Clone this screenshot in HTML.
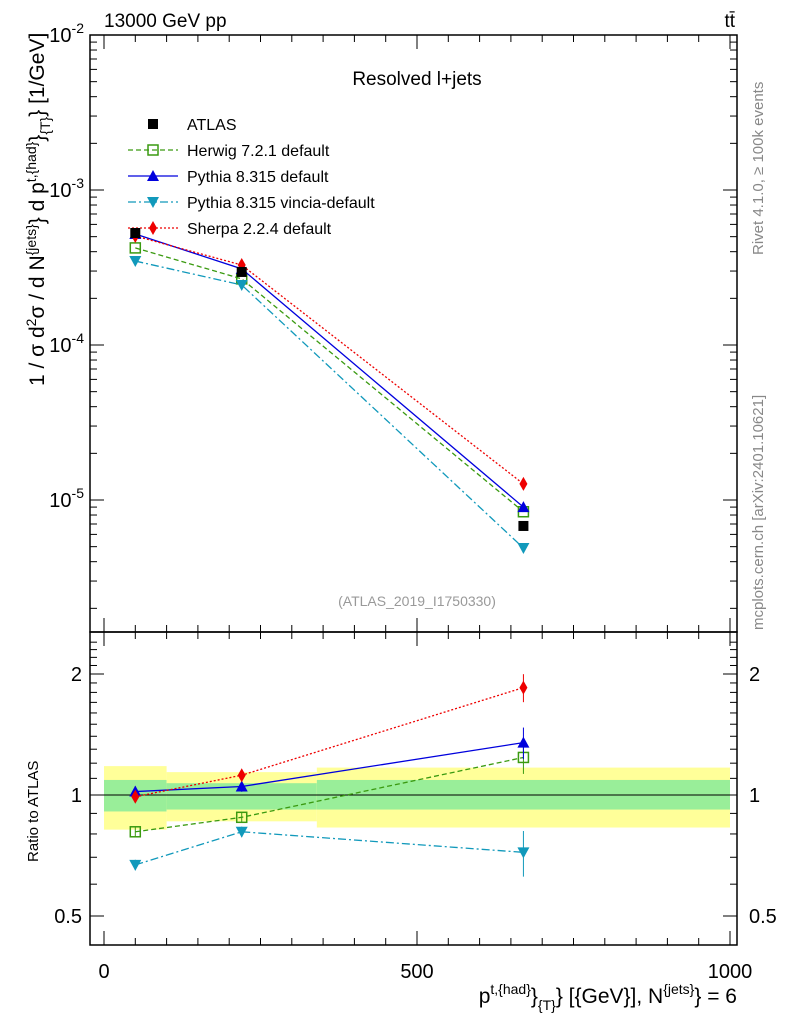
<!DOCTYPE html>
<html><head><meta charset="utf-8"><style>
body{margin:0;background:#fff;}
svg{display:block;font-family:"Liberation Sans",sans-serif;}
</style></head><body>
<svg id="chart" width="786" height="1024" viewBox="0 0 786 1024">
<text x="104" y="27" font-size="19">13000 GeV pp</text>
<text x="735" y="27" font-size="19" text-anchor="end">tt̄</text>
<text x="417" y="85" font-size="19" text-anchor="middle">Resolved l+jets</text>
<text x="417" y="606" font-size="14" fill="#999" text-anchor="middle">(ATLAS_2019_I1750330)</text>
<text transform="translate(763,255) rotate(-90)" font-size="15" fill="#888">Rivet 4.1.0, ≥ 100k events</text>
<text transform="translate(763,630) rotate(-90)" font-size="15" fill="#888">mcplots.cern.ch [arXiv:2401.10621]</text>
<text transform="translate(44,386) rotate(-90)" font-size="21">1 / σ d<tspan font-size="14" dy="-8">2</tspan><tspan dy="8">σ / d N</tspan><tspan font-size="14" dy="-8">{jets}</tspan><tspan dy="8">} d p</tspan><tspan font-size="14" dy="-8">t,{had}</tspan><tspan dy="8">}</tspan><tspan font-size="14" dy="6">{T}</tspan><tspan dy="-6">} [1/GeV]</tspan></text>
<text transform="translate(38,862) rotate(-90)" font-size="15">Ratio to ATLAS</text>
<text x="737" y="1003" font-size="21" text-anchor="end">p<tspan font-size="14" dy="-9">t,{had}</tspan><tspan dy="9">}</tspan><tspan font-size="14" dy="7">{T}</tspan><tspan dy="-7">} [{GeV}], N</tspan><tspan font-size="14" dy="-9">{jets}</tspan><tspan dy="9">} = 6</tspan></text>
<g id="legend"></g>
<g id="bands"></g><g id="axes"></g><g id="series"></g>
</svg>
<script>
const xs=[50,220,670];
const atlas=[5.28e-4,2.96e-4,6.8e-6];
const herwig=[4.23e-4,2.67e-4,8.4e-6];
const pythia=[5.2e-4,3.1e-4,9.0e-6];
const vincia=[3.48e-4,2.44e-4,4.9e-6];
const sherpa=[5.05e-4,3.28e-4,1.27e-5];
const rHerwig=[0.81,0.88,1.24];
const rPythia=[1.02,1.05,1.35];
const rVincia=[0.67,0.81,0.72];
const rSherpa=[0.99,1.12,1.85];
const rErr=[[0.03,0.03,0.09],[0.03,0.03,0.09],[0.03,0.03,0.13],[0.02,0.02,0.08]];
const binEdges=[0,100,340,1000];
const yelLo=[0.82,0.86,0.83],yelHi=[1.18,1.14,1.17];
const grnLo=[0.91,0.92,0.92],grnHi=[1.09,1.07,1.09];
const xTicks=[0,500,1000];
const ratioTicks=[0.5,1,2];

const NS="http://www.w3.org/2000/svg";
const L=90,R=737,T=35,MB=632,RB=945;
const X=v=>104+v*0.626;
const Y=v=>35+(-2-Math.log10(v))*155;
const YR=v=>795-Math.log2(v)*121;
function mk(tag,at,par){const e=document.createElementNS(NS,tag);for(const k in at)e.setAttribute(k,at[k]);document.getElementById(par).appendChild(e);return e;}
for(let i=0;i<3;i++){
 const y=mk('rect',{x:X(binEdges[i]),y:YR(yelHi[i]),width:X(binEdges[i+1])-X(binEdges[i]),height:YR(yelLo[i])-YR(yelHi[i]),fill:'#ffff99'},'bands');
 
 
 const g=mk('rect',{x:X(binEdges[i]),y:YR(grnHi[i]),width:X(binEdges[i+1])-X(binEdges[i]),height:YR(grnLo[i])-YR(grnHi[i]),fill:'#99ee99'},'bands');
 
 
}
mk('line',{x1:X(0),x2:X(1000),y1:YR(1),y2:YR(1),stroke:'#000'},'bands');
mk('rect',{x:L,y:T,width:R-L,height:MB-T,fill:'none',stroke:'#000','stroke-width':1.5},'axes');
mk('rect',{x:L,y:MB,width:R-L,height:RB-MB,fill:'none',stroke:'#000','stroke-width':1.5},'axes');
for(let d=-6;d<=-3;d++){for(let m=1;m<=9;m++){const v=m*Math.pow(10,d);const y=Y(v);if(y<T||y>MB)continue;const len=m==1?14:7;
 mk('line',{x1:L,x2:L+len,y1:y,y2:y,stroke:'#000'},'axes');mk('line',{x1:R,x2:R-len,y1:y,y2:y,stroke:'#000'},'axes');}}
[-2,-3,-4,-5].forEach(e=>{const t=mk('text',{x:L-6,y:Y(Math.pow(10,e))+7,'font-size':20,'text-anchor':'end'},'axes');t.innerHTML='10<tspan font-size="14" dy="-9">'+e+'</tspan>';
 
 });
for(let v=0.4;v<=2.5;v+=0.1){const y=YR(v);if(y<MB||y>RB)continue;mk('line',{x1:L,x2:L+7,y1:y,y2:y,stroke:'#000'},'axes');mk('line',{x1:R,x2:R-7,y1:y,y2:y,stroke:'#000'},'axes');}
ratioTicks.forEach(v=>{const y=YR(v);mk('line',{x1:L,x2:L+14,y1:y,y2:y,stroke:'#000'},'axes');mk('line',{x1:R,x2:R-14,y1:y,y2:y,stroke:'#000'},'axes');
 const a=mk('text',{x:L-8,y:y+7,'font-size':20,'text-anchor':'end'},'axes');a.textContent=v;
 
 
 const b=mk('text',{x:R+12,y:y+7,'font-size':20},'axes');b.textContent=v;
 
 });
for(let v=0;v<=1000;v+=50){const x=X(v);const len=v%500==0?14:7;
 [T,MB].forEach(y0=>mk('line',{x1:x,x2:x,y1:y0,y2:y0+len,stroke:'#000'},'axes'));
 [MB,RB].forEach(y0=>mk('line',{x1:x,x2:x,y1:y0,y2:y0-len,stroke:'#000'},'axes'));}
xTicks.forEach(v=>{const t=mk('text',{x:X(v),y:978,'font-size':20,'text-anchor':'middle'},'axes');t.textContent=v;
 
 });
function marker(type,x,y,c,par){
 if(type=='sq')return mk('rect',{x:x-5,y:y-5,width:10,height:10,fill:'#000'},par);
 if(type=='osq')return mk('rect',{x:x-5,y:y-5,width:10,height:10,fill:'none',stroke:c,'stroke-width':1.5},par);
 if(type=='up')return mk('polygon',{points:`${x-6},${y+5} ${x+6},${y+5} ${x},${y-6}`,fill:c},par);
 if(type=='dn')return mk('polygon',{points:`${x-6},${y-5} ${x+6},${y-5} ${x},${y+6}`,fill:c},par);
 return mk('polygon',{points:`${x},${y-7} ${x+4},${y} ${x},${y+7} ${x-4},${y}`,fill:c},par);
}
const series=[
 {n:'herwig',d:herwig,r:rHerwig,c:'#3a9a10',dash:'5,3',m:'osq',lab:'Herwig 7.2.1 default',e:rErr[0]},
 {n:'pythia',d:pythia,r:rPythia,c:'#0000dd',dash:'',m:'up',lab:'Pythia 8.315 default',e:rErr[1]},
 {n:'vincia',d:vincia,r:rVincia,c:'#1199bb',dash:'8,3,2,3',m:'dn',lab:'Pythia 8.315 vincia-default',e:rErr[2]},
 {n:'sherpa',d:sherpa,r:rSherpa,c:'#ee0000',dash:'2,2',m:'dia',lab:'Sherpa 2.2.4 default',e:rErr[3]}];
series.forEach(s=>{
 const p=mk('polyline',{points:xs.map((x,i)=>X(x)+','+Y(s.d[i])).join(' '),fill:'none',stroke:s.c,'stroke-width':1.3,'stroke-dasharray':s.dash},'series');
 
 
 const q=mk('polyline',{points:xs.map((x,i)=>X(x)+','+YR(s.r[i])).join(' '),fill:'none',stroke:s.c,'stroke-width':1.3,'stroke-dasharray':s.dash},'series');
 
 
 xs.forEach((x,i)=>{
  const hi=s.r[i]*(1+s.e[i]),lo=s.r[i]*(1-s.e[i]);
  mk('line',{x1:X(x),x2:X(x),y1:YR(hi),y2:YR(lo),stroke:s.c},'series');
  const m=marker(s.m,X(x),Y(s.d[i]),s.c,'series');
  
  
  const m2=marker(s.m,X(x),YR(s.r[i]),s.c,'series');
  
  
 });
});
xs.forEach((x,i)=>{const m=marker('sq',X(x),Y(atlas[i]),'#000','series');
 
 });
const lx=128,ly=124;
marker('sq',lx+25,ly,'#000','legend');
let t=mk('text',{x:187,y:ly+6,'font-size':16},'legend');t.textContent='ATLAS';
series.forEach((s,i)=>{const y=ly+26*(i+1);
 mk('line',{x1:lx,x2:lx+50,y1:y,y2:y,stroke:s.c,'stroke-width':1.3,'stroke-dasharray':s.dash},'legend');
 marker(s.m,lx+25,y,s.c,'legend');
 const tt=mk('text',{x:187,y:y+6,'font-size':16},'legend');tt.textContent=s.lab;
 
 });
</script>
</body></html>
